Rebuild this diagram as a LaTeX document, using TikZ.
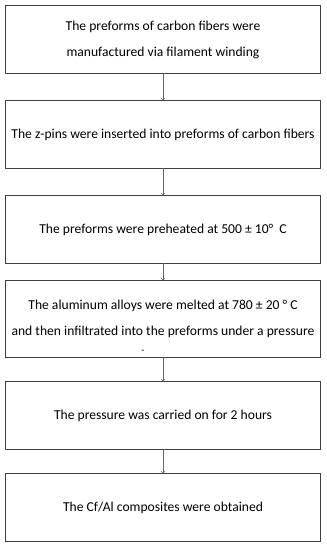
\documentclass[tikz,border=0pt]{standalone}
\usepackage{fontspec}
\setmainfont{Carlito}
\usepackage{tikz}
\usetikzlibrary{arrows,positioning}

\begin{document}
\begin{tikzpicture}[x=1pt,y=1pt,
    etapa/.style={draw=black!75, line width=0.8pt, minimum width=315pt,
      minimum height=68pt, inner sep=0pt, outer sep=0pt, align=center,
      font=\fontsize{13.6}{26}\selectfont},
    seta/.style={->, draw=black!60, line width=0.7pt}]
        % area
        \useasboundingbox (0,0) rectangle (327,550);
        % caixas
        \node[etapa] (s1) at (163,510.5)
          {The preforms of carbon fibers were\\manufactured via filament winding};
        \node[etapa, below=27pt of s1] (s2)
          {The z-pins were inserted into preforms of carbon fibers};
        \node[etapa, below=27pt of s2] (s3)
          {The preforms were preheated at 500 ± 10°~ C};
        \node[etapa, below=17pt of s3, minimum height=77pt] (s4)
          {The aluminum alloys were melted at 780 ± 20 ° C\\
           and then infiltrated into the preforms under a pressure};
        \node[font=\fontsize{10}{10}\selectfont, above=0pt of s4.south,
          xshift=-20pt] (ponto) {-};
        \node[etapa, below=24pt of s4] (s5)
          {The pressure was carried on for 2 hours};
        \node[etapa, below=24pt of s5] (s6)
          {The Cf/Al composites were obtained};
        % setas
        \foreach \a/\b in {s1/s2, s2/s3, s3/s4, s4/s5, s5/s6} {
          \draw[seta] (\a) -- (\b);
        }
\end{tikzpicture}
\end{document}
